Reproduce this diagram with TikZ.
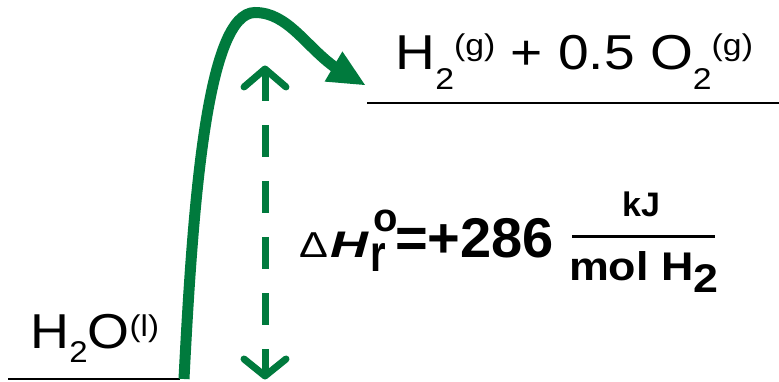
\documentclass[tikz,border=0pt]{standalone}
\usepackage{fontspec}
\setmainfont{Liberation Sans}
\definecolor{pathgreen}{RGB}{0,122,61}
\newcommand{\smallfs}{\fontsize{30}{30}\selectfont}
\begin{document}
\begin{tikzpicture}[x=1pt,y=-1pt,
  lbl/.style={inner sep=0pt, outer sep=0pt, anchor=base west},
  level/.style={draw=black, line width=2.6pt},
  rxn/.style={draw=pathgreen, line width=11pt},
  dhline/.style={draw=pathgreen, line width=7pt, dash pattern=on 32pt off 24pt},
  chev/.style={draw=pathgreen, line width=7pt, line cap=round, line join=round}]
\useasboundingbox (0,0) rectangle (779,382);
% energy levels
\coordinate (lowL) at (8,379);
\coordinate (lowR) at (180,379);
\coordinate (upL) at (367,103);
\coordinate (upR) at (779,103);
\draw[level] (lowL) -- (lowR);
\draw[level] (upL) -- (upR);
% labels of levels
\node[lbl] (h2o) at (30.5,348) {\fontsize{49}{49}\selectfont\scalebox{1.1}[1]{H\raisebox{-14pt}{\smallfs 2}O\raisebox{12pt}{\smallfs (l)}}};
\node[lbl] (prod) at (395.5,70) {\fontsize{49}{49}\selectfont\scalebox{1.125}[1]{H\raisebox{-20pt}{\smallfs 2}\raisebox{14pt}{\smallfs (g)} + 0.5 O\raisebox{-20pt}{\smallfs 2}\raisebox{14pt}{\smallfs (g)}}};
% reaction path
\coordinate (start) at (184,379);
\coordinate (peak) at (255,12.5);
\coordinate (shaftend) at (336,68);
\draw[rxn] (start) .. controls (193,200) and (207,12.5) .. (peak)
  .. controls (288,12.5) and (306,47) .. (shaftend);
\coordinate (tip) at (365,85);
\coordinate (bc1) at (324.6,81.6);
\coordinate (bc2) at (342.4,51.4);
\fill[pathgreen] (tip) -- (bc1) -- (bc2) -- cycle;
% enthalpy double arrow
\coordinate (dtop) at (265,69);
\coordinate (dbot) at (265,376);
\draw[dhline] (dtop) -- (dbot);
\coordinate (ta) at (244,87);
\coordinate (tb) at (286,87);
\coordinate (ba) at (244,359);
\coordinate (bb) at (286,359);
\draw[chev] (ta) -- (dtop) -- (tb);
\draw[chev] (ba) -- (dbot) -- (bb);
% enthalpy label
\node[lbl] (delta) at (299,257) {\fontsize{36}{36}\selectfont\scalebox{1.2}[1]{Δ}};
\node[lbl] (Hsym) at (330,257) {\fontsize{37}{37}\selectfont\scalebox{1.42}[1]{\bfseries\itshape H}};
\node[lbl] (osup) at (373,232) {\fontsize{40}{40}\selectfont\bfseries o};
\node[lbl] (rsub) at (370.5,271) {\fontsize{40}{40}\selectfont\scalebox{1}[1.3]{\bfseries r}};
\node[lbl] (val) at (395,258) {\fontsize{56}{56}\selectfont\bfseries =+286};
\node[lbl, anchor=base] (kj) at (641,217) {\fontsize{34}{34}\selectfont\bfseries kJ};
\coordinate (fracL) at (572,237);
\coordinate (fracR) at (715,237);
\draw[line width=3pt] (fracL) -- (fracR);
\node[lbl] (mol) at (569,280) {\fontsize{40}{40}\selectfont\scalebox{1.12}[1]{\bfseries mol H\raisebox{-12pt}{2}}};
\end{tikzpicture}
\end{document}
